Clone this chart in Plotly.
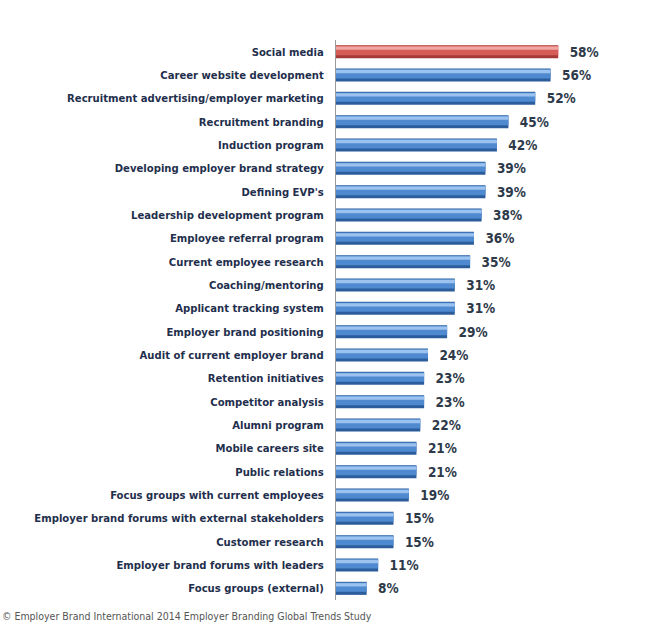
import plotly.graph_objects as go

categories = [
    "Social media",
    "Career website development",
    "Recruitment advertising/employer marketing",
    "Recruitment branding",
    "Induction program",
    "Developing employer brand strategy",
    "Defining EVP's",
    "Leadership development program",
    "Employee referral program",
    "Current employee research",
    "Coaching/mentoring",
    "Applicant tracking system",
    "Employer brand positioning",
    "Audit of current employer brand",
    "Retention initiatives",
    "Competitor analysis",
    "Alumni program",
    "Mobile careers site",
    "Public relations",
    "Focus groups with current employees",
    "Employer brand forums with external stakeholders",
    "Customer research",
    "Employer brand forums with leaders",
    "Focus groups (external)",
]
values = [58, 56, 52, 45, 42, 39, 39, 38, 36, 35, 31, 31, 29, 24, 23, 23, 22, 21, 21, 19, 15, 15, 11, 8]

positions = list(range(len(categories)))
highlight_idx = 0

def shade(idx, red, blue):
    return [red if i == highlight_idx else blue for i in idx]

LABEL_FONT = "DejaVu Sans Condensed, Arial Narrow, sans-serif"

fig = go.Figure()

# Layered bars: dark base, mid tone body, light sheen for a glossy look
layers = [
    dict(offset=-0.28, width=0.56, red="#a63a36", blue="#2b5c9c"),
    dict(offset=-0.25, width=0.40, red="#d65d57", blue="#4f8ad0"),
    dict(offset=-0.22, width=0.14, red="#f0a6a2", blue="#9cc3ef"),
]
for k, layer in enumerate(layers):
    fig.add_trace(go.Bar(
        x=values,
        y=positions,
        orientation="h",
        offset=layer["offset"],
        width=layer["width"],
        marker=dict(color=shade(positions, layer["red"], layer["blue"]), line=dict(width=0)),
        text=[f"\u00a0\u00a0{v}%" for v in values] if k == 0 else None,
        textposition="outside" if k == 0 else "none",
        constraintext="none",
        textfont=dict(family=LABEL_FONT, size=13.5, color="#2e3a4a", weight="bold"),
        cliponaxis=False,
        hoverinfo="skip",
        showlegend=False,
    ))

fig.update_layout(
    width=652,
    height=623,
    barmode="overlay",
    paper_bgcolor="white",
    plot_bgcolor="white",
    margin=dict(l=336, r=16, t=40, b=23),
    xaxis=dict(range=[0, 78.3], visible=False, fixedrange=True),
    yaxis=dict(
        tickmode="array",
        tickvals=positions,
        ticktext=categories,
        range=[len(categories) - 0.5, -0.5],
        showgrid=False,
        zeroline=False,
        showline=True,
        linecolor="#9a9a9a",
        linewidth=1,
        ticks="",
        ticklabelstandoff=9,
        tickfont=dict(family=LABEL_FONT, size=11.2, color="#1f2f4d", weight="bold"),
    ),
    annotations=[
        dict(
            text="© Employer Brand International 2014 Employer Branding Global Trends Study",
            xref="paper", yref="paper",
            x=-336 / (652 - 336 - 16), y=-23 / (623 - 40 - 23),
            xanchor="left", yanchor="bottom",
            yshift=-1,
            showarrow=False,
            font=dict(family=LABEL_FONT, size=10.5, color="#555555"),
        )
    ],
)

fig.write_html("out.html")
